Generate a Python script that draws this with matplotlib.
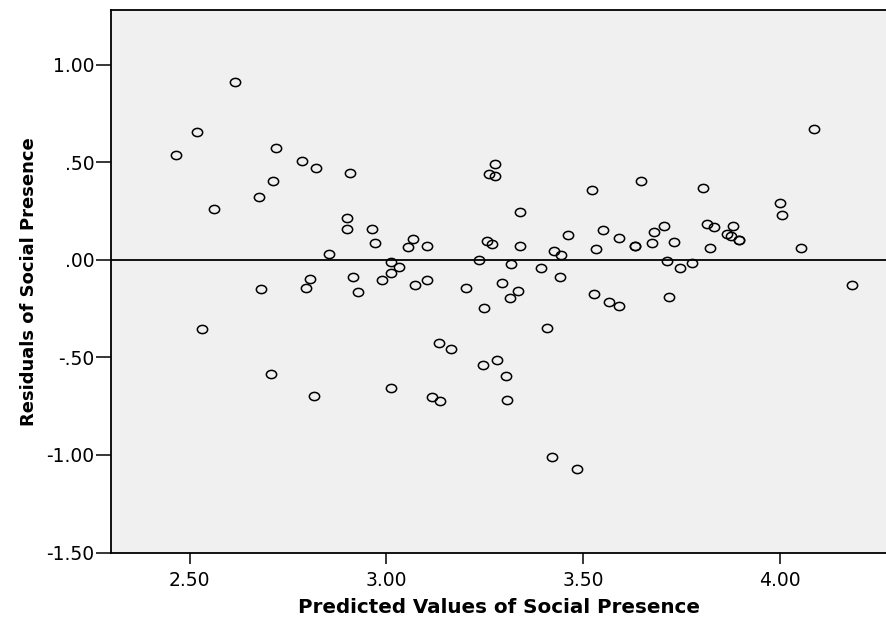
import numpy as np
import matplotlib
matplotlib.use("Agg")
import matplotlib.pyplot as plt
from matplotlib.path import Path
from matplotlib.markers import MarkerStyle

# predicted values (x) and residuals (y)
predicted = [
    2.615, 2.519, 2.464, 2.720, 2.786, 2.822, 2.908, 2.712, 2.677, 2.562,
    2.900, 2.899, 2.963, 2.970, 2.853, 3.012, 3.033, 3.011, 2.989, 2.807,
    2.795, 2.682, 2.915, 2.929, 2.531, 2.706, 2.817, 3.011, 3.275, 3.261,
    3.275, 3.523, 3.340, 3.648, 3.068, 3.054, 3.104, 3.255, 3.268, 3.340,
    3.461, 3.550, 3.592, 3.532, 3.425, 3.443, 3.632, 3.632, 3.235, 3.316,
    3.394, 3.441, 3.074, 3.103, 3.203, 3.295, 3.335, 3.315, 3.247, 3.527,
    3.567, 3.591, 3.409, 3.135, 3.165, 3.280, 3.246, 3.303, 3.117, 3.137,
    3.307, 3.422, 3.485, 4.088, 3.804, 4.001, 4.005, 3.706, 3.679, 3.814,
    3.832, 3.882, 3.676, 3.731, 3.867, 3.875, 3.896, 3.896, 3.823, 4.054,
    3.714, 3.747, 3.777, 3.719, 4.183,
]
residuals = [
    0.912, 0.657, 0.536, 0.575, 0.507, 0.473, 0.445, 0.405, 0.323, 0.262,
    0.216, 0.160, 0.157, 0.088, 0.029, -0.012, -0.034, -0.068, -0.105, -0.100,
    -0.146, -0.151, -0.090, -0.163, -0.352, -0.587, -0.697, -0.657, 0.490, 0.442,
    0.430, 0.359, 0.247, 0.407, 0.109, 0.065, 0.073, 0.099, 0.083, 0.071,
    0.128, 0.155, 0.114, 0.056, 0.048, 0.027, 0.071, 0.071, 0.002, -0.020,
    -0.041, -0.088, -0.131, -0.102, -0.145, -0.117, -0.158, -0.197, -0.247, -0.173,
    -0.214, -0.238, -0.350, -0.427, -0.457, -0.515, -0.537, -0.594, -0.702, -0.723,
    -0.716, -1.009, -1.070, 0.673, 0.371, 0.292, 0.230, 0.173, 0.145, 0.185,
    0.168, 0.175, 0.088, 0.093, 0.133, 0.124, 0.102, 0.102, 0.060, 0.063,
    -0.007, -0.041, -0.014, -0.189, -0.126,
]

x_ticks = [2.5, 3.0, 3.5, 4.0]
x_tick_labels = ["2.50", "3.00", "3.50", "4.00"]
y_ticks = [-1.5, -1.0, -0.5, 0.0, 0.5, 1.0]
y_tick_labels = ["-1.50", "-1.00", "-.50", ".00", ".50", "1.00"]

# slightly wide ellipse marker (the reference is stretched sideways)
circle = Path.unit_circle()
ellipse = Path(circle.vertices * np.array([1.0, 0.8]), circle.codes)
marker = MarkerStyle(ellipse)

fig = plt.figure(figsize=(8.86, 6.21), dpi=100)
ax = fig.add_axes([111 / 886, 1 - 552.5 / 621, 775 / 886, 542.2 / 621])
ax.set_facecolor("#F0F0F0")

ax.axhline(0, color="black", linewidth=1.3, zorder=1)
ax.plot(predicted, residuals, linestyle="none", marker=marker, markersize=7.4,
        markerfacecolor="none", markeredgecolor="black", markeredgewidth=1.1,
        zorder=2)

ax.set_xlim(2.30, 4.27)
ax.set_ylim(-1.5, 1.28)

ax.set_xticks(x_ticks)
ax.set_xticklabels(x_tick_labels)
ax.set_yticks(y_ticks)
ax.set_yticklabels(y_tick_labels)

ax.tick_params(axis="x", direction="out", length=8, width=1.1, pad=5,
               labelsize=13.5, colors="black")
ax.tick_params(axis="y", direction="out", length=11, width=1.1, pad=1,
               labelsize=13.5, colors="black")

for side in ["left", "top", "bottom"]:
    ax.spines[side].set_linewidth(1.3)
    ax.spines[side].set_color("black")
ax.spines["right"].set_visible(False)

ax.set_xlabel("Predicted Values of Social Presence", fontsize=14.3,
              fontweight="bold", labelpad=6)
ax.set_ylabel("Residuals of Social Presence", fontsize=13, fontweight="bold",
              labelpad=6)

fig.savefig("out.png", dpi=100)
